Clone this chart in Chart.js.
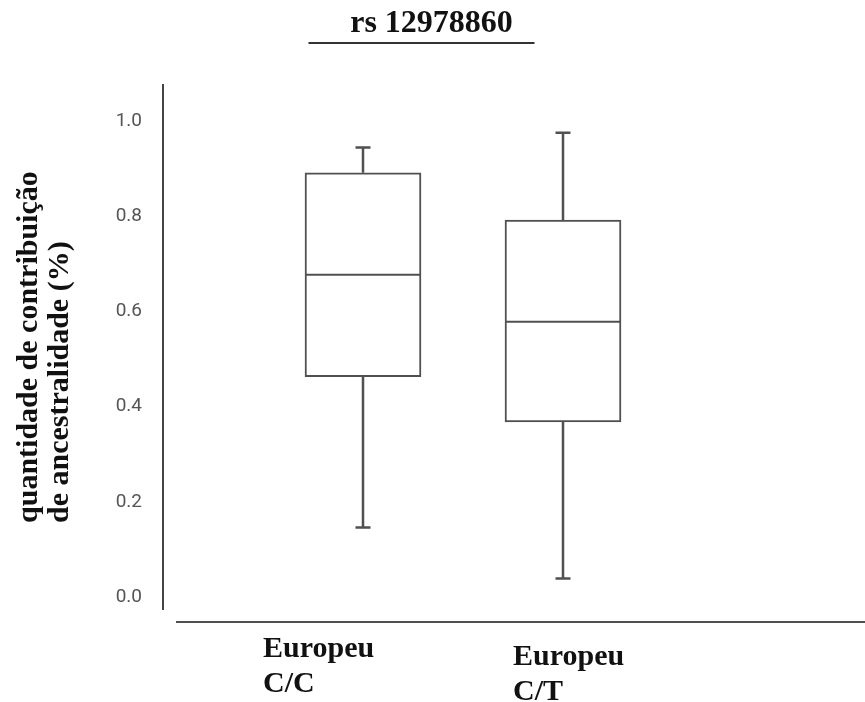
<!DOCTYPE html>
<html lang="pt">
<head>
  <meta charset="UTF-8">
  <title>rs 12978860</title>
  <script src="https://cdn.jsdelivr.net/npm/chart.js"></script>
  <style>
    body { margin: 0; background: #fff; }
    .wrap { width: 865px; height: 702px; position: relative; }
  </style>
</head>
<body>
  <div class="wrap"><canvas id="boxChart"></canvas></div>

  <script>
    // genotype groups and their box statistics
    const groups = [['Europeu', 'C/C'], ['Europeu', 'C/T']];
    const positions = [1, 2];
    const minVals = [0.146, 0.039];
    const q1Vals = [0.463, 0.368];
    const medianVals = [0.677, 0.578];
    const q3Vals = [0.891, 0.792];
    const maxVals = [0.944, 0.975];
    const yTicks = [0, 0.2, 0.4, 0.6, 0.8, 1.0];
    const yTitle = ['quantidade de contribuição', 'de ancestralidade (%)'];

    const serif = "'Liberation Serif', 'Times New Roman', serif";
    const lineColor = '#505050';
    const textColor = '#111';

    // whiskers, caps and median drawn over the bars
    const boxExtras = {
      id: 'boxExtras',
      afterDatasetsDraw(chart) {
        const ctx = chart.ctx;
        const y = chart.scales.y;
        const bars = chart.getDatasetMeta(0).data;
        ctx.save();
        ctx.strokeStyle = lineColor;
        bars.forEach((bar, i) => {
          const cx = bar.x;
          const half = bar.width / 2;
          const yMin = y.getPixelForValue(minVals[i]);
          const yQ1 = y.getPixelForValue(q1Vals[i]);
          const yMed = y.getPixelForValue(medianVals[i]);
          const yQ3 = y.getPixelForValue(q3Vals[i]);
          const yMax = y.getPixelForValue(maxVals[i]);

          ctx.lineWidth = 2.5;
          ctx.beginPath();
          ctx.moveTo(cx, yQ3); ctx.lineTo(cx, yMax);
          ctx.moveTo(cx, yQ1); ctx.lineTo(cx, yMin);
          ctx.moveTo(cx - 7.5, yMax); ctx.lineTo(cx + 7.5, yMax);
          ctx.moveTo(cx - 7.5, yMin); ctx.lineTo(cx + 7.5, yMin);
          ctx.stroke();

          ctx.lineWidth = 2;
          ctx.beginPath();
          ctx.moveTo(cx - half + 1, yMed); ctx.lineTo(cx + half - 1, yMed);
          ctx.stroke();
        });
        ctx.restore();
      }
    };

    // title underline, detached x axis line, group labels, y title
    const decor = {
      id: 'decor',
      afterDraw(chart) {
        const ctx = chart.ctx;
        const area = chart.chartArea;
        const t = chart.titleBlock;
        ctx.save();

        ctx.strokeStyle = '#333';
        ctx.lineWidth = 2;
        const ucx = (t.left + t.right) / 2 - 10;
        ctx.beginPath();
        ctx.moveTo(ucx - 113, t.top + 43);
        ctx.lineTo(ucx + 113, t.top + 43);
        ctx.stroke();

        ctx.strokeStyle = lineColor;
        ctx.beginPath();
        ctx.moveTo(area.left + 13, area.bottom + 13);
        ctx.lineTo(chart.width, area.bottom + 13);
        ctx.stroke();

        ctx.fillStyle = textColor;
        ctx.font = 'bold 30px ' + serif;
        ctx.textAlign = 'left';
        ctx.textBaseline = 'alphabetic';
        const shift = [[-100, 48], [-50, 56]];
        const x = chart.scales.x;
        groups.forEach((lines, i) => {
          const gx = x.getPixelForValue(positions[i]) + shift[i][0];
          lines.forEach((s, j) => {
            ctx.fillText(s, gx, area.bottom + shift[i][1] + j * 35);
          });
        });

        const mid = (area.top + area.bottom) / 2;
        const start = mid + ctx.measureText(yTitle[0]).width / 2;
        yTitle.forEach((s, j) => {
          ctx.save();
          ctx.translate(37 + j * 31, start);
          ctx.rotate(-Math.PI / 2);
          ctx.fillText(s, 0, 0);
          ctx.restore();
        });
        ctx.restore();
      }
    };

    new Chart(document.getElementById('boxChart'), {
      type: 'bar',
      data: {
        datasets: [{
          data: positions.map((p, i) => ({ x: p, y: [q1Vals[i], q3Vals[i]] })),
          backgroundColor: '#fff',
          borderColor: lineColor,
          borderWidth: 2,
          borderSkipped: false,
          barThickness: 116
        }]
      },
      options: {
        responsive: true,
        maintainAspectRatio: false,
        animation: false,
        layout: { padding: { top: 0, right: 2, bottom: 93, left: 0 } },
        plugins: {
          legend: { display: false },
          tooltip: { enabled: false },
          title: {
            display: true,
            text: 'rs 12978860',
            color: textColor,
            font: { family: serif, size: 32, weight: 'bold', lineHeight: 1.1 },
            padding: { top: 6, bottom: 44 }
          }
        },
        scales: {
          x: {
            type: 'linear',
            display: false,
            offset: false,
            min: 0,
            max: 3.5
          },
          y: {
            min: -0.025,
            max: 1.075,
            afterFit(scale) { scale.width = 163; },
            afterBuildTicks(scale) { scale.ticks = yTicks.map(v => ({ value: v })); },
            grid: { display: false, drawTicks: false },
            border: { display: true, color: '#444', width: 2 },
            ticks: {
              padding: 21,
              color: '#555',
              font: { family: 'Roboto', size: 19 },
              callback: v => v.toFixed(1)
            }
          }
        }
      },
      plugins: [boxExtras, decor]
    });
  </script>
</body>
</html>
